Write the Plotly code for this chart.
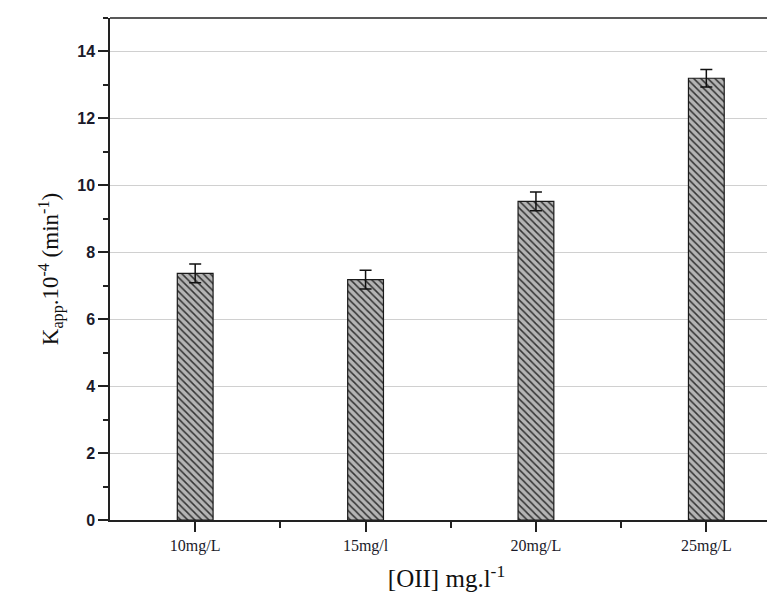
import plotly.graph_objects as go

categories = ["10mg/L", "15mg/l", "20mg/L", "25mg/L"]
k_app = [7.37, 7.18, 9.52, 13.2]
k_err = [0.28, 0.28, 0.28, 0.26]
y_ticks = [0, 2, 4, 6, 8, 10, 12, 14]

positions = list(range(len(categories)))

fig = go.Figure()
fig.add_trace(go.Bar(
    x=positions,
    y=k_app,
    width=0.21,
    marker=dict(
        color="#a8a8a8",
        line=dict(color="#1a1a1a", width=1.2),
        pattern=dict(shape="\\", fgcolor="#333333", bgcolor="#b4b4b4",
                     size=5, solidity=0.3, fillmode="replace"),
    ),
    error_y=dict(type="data", array=k_err, visible=True,
                 color="#111111", thickness=1.5, width=6),
    showlegend=False,
))

fig.add_shape(type="line", xref="paper", yref="paper", x0=0, x1=1, y0=1, y1=1,
              line=dict(color="#222222", width=1.5))

fig.update_layout(
    width=775, height=598,
    margin=dict(l=102, r=0, t=10, b=86),
    paper_bgcolor="white", plot_bgcolor="white",
    xaxis=dict(
        range=[-0.5, 3.45],
        tickmode="array", tickvals=positions, ticktext=categories,
        ticks="outside", ticklen=10, tickwidth=1.5, tickcolor="#222222",
        minor=dict(tickvals=[0.5, 1.5, 2.5], ticks="outside", ticklen=6,
                   tickwidth=1.5, tickcolor="#222222"),
        showline=True, linecolor="#222222", linewidth=1.5,
        showgrid=False, zeroline=False,
        tickfont=dict(family="Liberation Serif", size=16, color="#1a1a2a"),
        title=dict(text="[OII] mg.l<sup>-1</sup>",
                   font=dict(family="Liberation Serif", size=25, color="#111111"),
                   standoff=16),
    ),
    yaxis=dict(
        range=[0, 15],
        tickmode="array", tickvals=y_ticks,
        ticktext=["<b>%d</b>" % v for v in y_ticks],
        ticks="outside", ticklen=10, tickwidth=1.5, tickcolor="#222222",
        minor=dict(dtick=1, ticks="outside", ticklen=5, tickwidth=1.5,
                   tickcolor="#222222", showgrid=False),
        showline=True, linecolor="#222222", linewidth=1.5,
        showgrid=True, gridcolor="#d0d0d0", gridwidth=1.2,
        zeroline=False,
        tickfont=dict(family="Liberation Sans", size=16, color="#1a1a2a"),
        title=dict(text="K<sub>app</sub>.10<sup>-4</sup> (min<sup>-1</sup>)",
                   font=dict(family="Liberation Serif", size=23, color="#111111"),
                   standoff=12),
    ),
)

fig.write_html("out.html")
